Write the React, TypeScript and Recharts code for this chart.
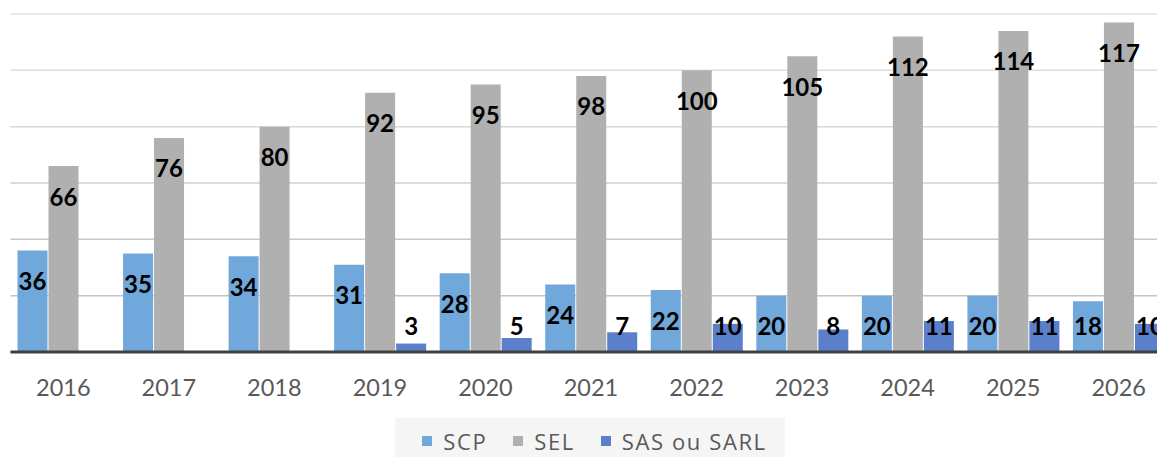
import React from 'react';
import { BarChart, Bar, XAxis, YAxis, CartesianGrid, Legend, LabelList } from 'recharts';

const years = ['2016', '2017', '2018', '2019', '2020', '2021', '2022', '2023', '2024', '2025', '2026'];
const scp = [36, 35, 34, 31, 28, 24, 22, 20, 20, 20, 18];
const sel = [66, 76, 80, 92, 95, 98, 100, 105, 112, 114, 117];
const sas: (number | null)[] = [null, null, null, 3, 5, 7, 10, 8, 11, 11, 10];
const yTicks = [0, 20, 40, 60, 80, 100, 120];

const seriesNames = ['SCP', 'SEL', 'SAS ou SARL'];
const colors = ['#70a8dc', '#b0b0b0', '#5b7fcb'];

const data = years.map((y, i) => ({ year: y, scp: scp[i], sel: sel[i], sas: sas[i] }));

const FONT = 'Lato, "Open Sans", sans-serif';
const LEGEND_FONT = '"Open Sans", Lato, sans-serif';

const renderLabel = (props: any) => {
  const { x, y, width, height, value } = props;
  if (value === null || value === undefined) return null;
  const cy = Math.min(y + 30, y + height - 27);
  return (
    <text
      x={x + width / 2}
      y={cy}
      textAnchor="middle"
      dominantBaseline="central"
      fontFamily={FONT}
      fontWeight={700}
      fontSize={24}
      fill="#000"
    >
      {value}
    </text>
  );
};

const gridColors = ['#c2c2c2', '#c4c4c4', '#c8c8c8', '#cfcfcf', '#d8d8d8', '#dedede', '#e3e3e3'];

const renderGridLine = (props: any) => {
  const { x1, x2, y1, y2, index } = props;
  const c = gridColors[index] ?? '#d0d0d0';
  return <line key={`g-${index}`} x1={x1} x2={x2} y1={y1} y2={y2} stroke={c} strokeWidth={1.5} />;
};

const renderTick = (props: any) => {
  const { x, y, payload } = props;
  return (
    <text x={x} y={y + 27} textAnchor="middle" dominantBaseline="central" fontFamily={FONT} fontSize={23.5} fill="#595959">
      {payload.value}
    </text>
  );
};

const LegendContent = () => (
  <div
    style={{
      background: '#f5f5f5',
      width: 390,
      height: 39,
      display: 'flex',
      alignItems: 'center',
      justifyContent: 'center',
      paddingTop: 7,
      paddingLeft: 9,
      boxSizing: 'border-box',
      fontFamily: LEGEND_FONT,
      fontSize: 22,
      letterSpacing: 1.6,
      color: '#595959',
    }}
  >
    {seriesNames.map((n, i) => (
      <div key={n} style={{ display: 'flex', alignItems: 'center', marginLeft: i === 0 ? 0 : 26 }}>
        <span style={{ display: 'inline-block', width: 10, height: 10, background: colors[i], marginRight: 11 }} />
        <span style={{ display: 'inline-block', lineHeight: '22px', height: 22, whiteSpace: 'nowrap' }}>{n}</span>
      </div>
    ))}
  </div>
);

export default function App() {
  return (
    <div style={{ position: 'absolute', left: 0, top: 0, width: 1157, height: 457, overflow: 'hidden', background: '#fff' }}>
      <BarChart
        width={1180}
        height={457}
        data={data}
        margin={{ top: 14, left: 10.5, right: 8.5, bottom: 65 }}
        barSize={30}
        barGap={1}
      >
        <CartesianGrid vertical={false} horizontal={renderGridLine} />
        <YAxis hide domain={[0, 120]} ticks={yTicks} />
        <XAxis
          dataKey="year"
          height={40}
          axisLine={{ stroke: '#404040', strokeWidth: 3 }}
          tickLine={false}
          tick={renderTick}
          interval={0}
        />
        <Legend
          layout="horizontal"
          verticalAlign="middle"
          align="center"
          wrapperStyle={{ top: 418, left: 395, width: 390, height: 39 }}
          content={<LegendContent />}
        />
        <Bar dataKey="scp" name="SCP" fill={colors[0]} isAnimationActive={false}>
          <LabelList dataKey="scp" content={renderLabel} />
        </Bar>
        <Bar dataKey="sel" name="SEL" fill={colors[1]} isAnimationActive={false}>
          <LabelList dataKey="sel" content={renderLabel} />
        </Bar>
        <Bar dataKey="sas" name="SAS ou SARL" fill={colors[2]} isAnimationActive={false}>
          <LabelList dataKey="sas" content={renderLabel} />
        </Bar>
      </BarChart>
    </div>
  );
}
